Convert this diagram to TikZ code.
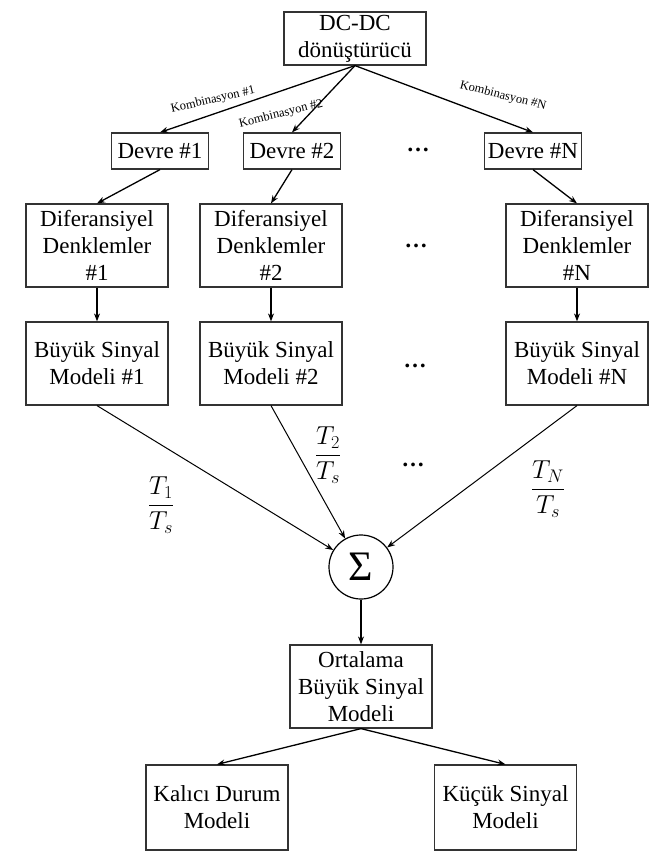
\documentclass[tikz,border=0pt]{standalone}
\usepackage{fix-cm}
\usepackage{fontspec}
\setmainfont{Liberation Serif}
\usetikzlibrary{arrows.meta}

\tikzset{
  kutu/.style={draw=black!80, line width=1.2pt, align=center, inner sep=0pt,
    minimum width=142pt, minimum height=83pt, font=\fontsize{23}{27}\selectfont},
  devrekutu/.style={kutu, minimum width=97pt, minimum height=36pt},
  ok/.style={-{Stealth[length=8pt,width=6pt]}, line width=1.3pt},
  inceok/.style={-{Stealth[length=8pt,width=6pt]}, line width=1pt},
  komb/.style={font=\fontsize{12.5}{14}\selectfont, inner sep=0pt},
  nokta/.style={font=\bfseries\fontsize{23}{27}\selectfont},
  kesir/.style={font=\fontsize{26}{30}\selectfont},
}

\begin{document}
\begin{tikzpicture}[x=1pt,y=-1pt]
\useasboundingbox (0,0) rectangle (651,862);

% ust kutu
\node[kutu, minimum height=53pt] (dc) at (355,38.5) {DC-DC\\dönüştürücü};

% devreler
\node[devrekutu] (d1) at (160,151) {Devre \#1};
\node[devrekutu] (d2) at (292,151) {Devre \#2};
\node[devrekutu] (dN) at (533,151) {Devre \#N};
\node[nokta] (p1) at (418,150) {…};

\draw[ok] (dc.south) -- (d1.north);
\draw[ok] (dc.south) -- (d2.north);
\draw[ok] (dc.south) -- (dN.north);
\node[komb, rotate=13] (k1) at (213,100) {Kombinasyon \#1};
\node[komb, rotate=14] (k2) at (281,114) {Kombinasyon \#2};
\node[komb, rotate=-14] (kN) at (503,96) {Kombinasyon \#N};

% diferansiyel denklemler
\node[kutu] (e1) at (97,245.5) {Diferansiyel\\Denklemler\\\#1};
\node[kutu] (e2) at (271,245.5) {Diferansiyel\\Denklemler\\\#2};
\node[kutu] (eN) at (577,245.5) {Diferansiyel\\Denklemler\\\#N};
\node[nokta] (p2) at (416,246) {…};

\draw[ok] (d1.south) -- (e1.north);
\draw[ok] (d2.south) -- (e2.north);
\draw[ok] (dN.south) -- (eN.north);

% buyuk sinyal modelleri
\node[kutu] (b1) at (97,363.5) {Büyük Sinyal\\Modeli \#1};
\node[kutu] (b2) at (271,363.5) {Büyük Sinyal\\Modeli \#2};
\node[kutu] (bN) at (577,363.5) {Büyük Sinyal\\Modeli \#N};
\node[nokta] (p3) at (415,366) {…};

\draw[ok] (e1.south) -- (b1.north);
\draw[ok] (e2.south) -- (b2.north);
\draw[ok] (eN.south) -- (bN.north);

% toplam
\node[circle, draw, line width=1.2pt, minimum size=64pt, inner sep=0pt,
  font=\fontsize{42}{44}\selectfont] (sum) at (361,567) {Σ};

\draw[inceok] (b1.south) -- (sum);
\draw[inceok] (b2.south) -- (sum);
\draw[inceok] (bN.south) -- (sum);

\node[kesir] (t1) at (161,505) {$\displaystyle\frac{T_1}{T_s}$};
\node[kesir] (t2) at (328,455) {$\displaystyle\frac{T_2}{T_s}$};
\node[kesir] (tN) at (548,489) {$\displaystyle\frac{T_N}{T_s}$};
\node[nokta] (p4) at (413,465) {…};

% ortalama model
\node[kutu] (ort) at (361,686.5) {Ortalama\\Büyük Sinyal\\Modeli};
\draw[ok] (sum) -- (ort.north);

\node[kutu, minimum height=85pt] (kd) at (217,807.5) {Kalıcı Durum\\Modeli};
\node[kutu, minimum height=85pt] (ks) at (505.5,807.5) {Küçük Sinyal\\Modeli};

\draw[ok] (ort.south) -- (kd.north);
\draw[ok] (ort.south) -- (ks.north);

\end{tikzpicture}
\end{document}
